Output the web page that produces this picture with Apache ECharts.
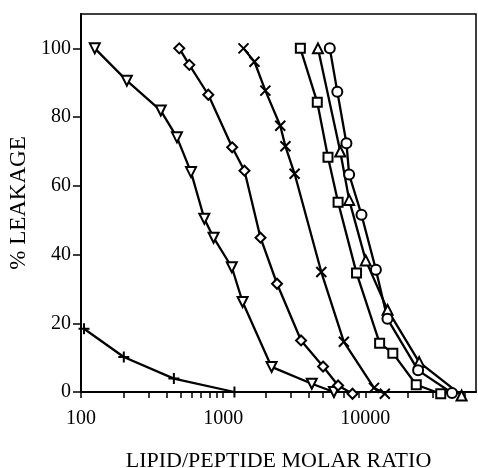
<!DOCTYPE html>
<html>
<head>
<meta charset="utf-8">
<script src="https://cdn.jsdelivr.net/npm/echarts@6/dist/echarts.min.js"></script>
<style>
html,body{margin:0;padding:0;background:#fff;}
#chart{width:478px;height:468px;}
</style>
</head>
<body>
<div id="chart"></div>
<script>
// lipid/peptide molar ratio (x) vs % leakage (y)
var plusX = [105, 200, 450, 1200];
var plusY = [18.4, 10.2, 3.9, 0];
var triDownX = [125, 210, 364, 473, 594, 737, 856, 1150, 1370, 2190, 4200, 6010];
var triDownY = [100, 90.6, 81.9, 74.1, 64, 50.4, 44.9, 36.3, 26.2, 7.3, 2.4, 0];
var diamondX = [491, 578, 786, 1157, 1412, 1830, 2392, 3530, 5040, 6430, 8120];
var diamondY = [100, 95.2, 86.5, 71.2, 64.4, 44.9, 31.5, 15.0, 7.4, 1.9, -0.5];
var crossX = [1390, 1660, 1980, 2520, 2740, 3180, 4900, 7060, 11500, 13700];
var crossY = [100, 96.1, 87.7, 77.5, 71.5, 63.5, 34.9, 14.6, 1.2, -0.5];
var squareX = [3490, 4590, 5460, 6430, 8670, 12600, 15600, 22800, 33900];
var squareY = [100, 84.3, 68.3, 55.2, 34.6, 14.2, 11.3, 2.1, -0.5];
var triUpX = [4640, 6660, 7690, 10060, 14330, 23900, 47500];
var triUpY = [100, 70, 55.9, 38.3, 23.9, 8.7, -1];
var circleX = [5620, 6350, 7360, 7690, 9390, 11860, 14300, 23500, 40700];
var circleY = [100, 87.4, 72.4, 63.3, 51.6, 35.6, 21.3, 6.3, -0.3];

var xLabels = [100, 1000, 10000];
var xTicks = [100, 200, 300, 400, 500, 600, 700, 800, 900,
              1000, 2000, 3000, 4000, 5000, 6000, 7000, 8000, 9000,
              10000, 20000, 30000, 40000, 50000];
var yTicks = [0, 20, 40, 60, 80, 100];

var FONT = '"Liberation Serif", "DejaVu Serif", serif';

function pairs(xs, ys){
	var out = [];
	for (var i = 0; i < xs.length; i++) {
		out.push([xs[i], ys[i]]);
	}
	return out;
}

function makeSeries(name, xs, ys, symbol, size, rotate){
	return {
		name: name,
		type: 'line',
		data: pairs(xs, ys),
		symbol: symbol,
		symbolSize: size,
		symbolRotate: rotate || 0,
		showAllSymbol: true,
		clip: false,
		lineStyle: { color: '#000', width: 2.3 },
		itemStyle: { color: '#fff', borderColor: '#000', borderWidth: 2 },
		emphasis: { disabled: true },
		animation: false
	};
}

var myChart = echarts.init(document.getElementById('chart'));
var option = {
	backgroundColor: '#fff',
	animation: false,
	grid: {
		left: 81, right: 2, top: 14, bottom: 76,
		outerBoundsMode: 'none',
		containLabel: false,
		show: true, borderColor: '#000', borderWidth: 1.5
	},
	xAxis: {
		type: 'log',
		min: 100,
		max: 60000,
		name: 'LIPID/PEPTIDE MOLAR RATIO',
		nameLocation: 'middle',
		nameGap: 58,
		nameTextStyle: { fontFamily: FONT, fontSize: 22, color: '#000' },
		axisLine: { lineStyle: { color: '#000', width: 2 } },
		axisTick: { customValues: xTicks, length: 6, lineStyle: { color: '#000', width: 1.5 } },
		axisLabel: {
			customValues: xLabels, margin: 17, fontFamily: FONT, fontSize: 20, color: '#000',
			formatter: function(v){ return String(Math.round(v)); }
		},
		splitLine: { show: false },
		minorTick: { show: false }
	},
	yAxis: {
		type: 'value',
		min: 0,
		max: 110,
		interval: 20,
		name: '% LEAKAGE',
		nameLocation: 'middle',
		nameGap: 43,
		nameTextStyle: { fontFamily: FONT, fontSize: 23, color: '#000' },
		axisLine: { show: true, lineStyle: { color: '#000', width: 2 } },
		axisTick: { customValues: yTicks, length: 8, lineStyle: { color: '#000', width: 1.5 } },
		axisLabel: { customValues: yTicks, margin: 10, fontFamily: FONT, fontSize: 20, color: '#000' },
		splitLine: { show: false }
	},
	series: [
		makeSeries('plus', plusX, plusY, 'path://M5,0L5,10M0,5L10,5', 11),
		makeSeries('triDown', triDownX, triDownY, 'triangle', 10, 180),
		makeSeries('diamond', diamondX, diamondY, 'diamond', 10),
		makeSeries('cross', crossX, crossY, 'path://M0,0L10,10M10,0L0,10', 10),
		makeSeries('square', squareX, squareY, 'rect', 9),
		makeSeries('triUp', triUpX, triUpY, 'triangle', 10),
		makeSeries('circle', circleX, circleY, 'circle', 10)
	]
};
myChart.setOption(option);
</script>
</body>
</html>
